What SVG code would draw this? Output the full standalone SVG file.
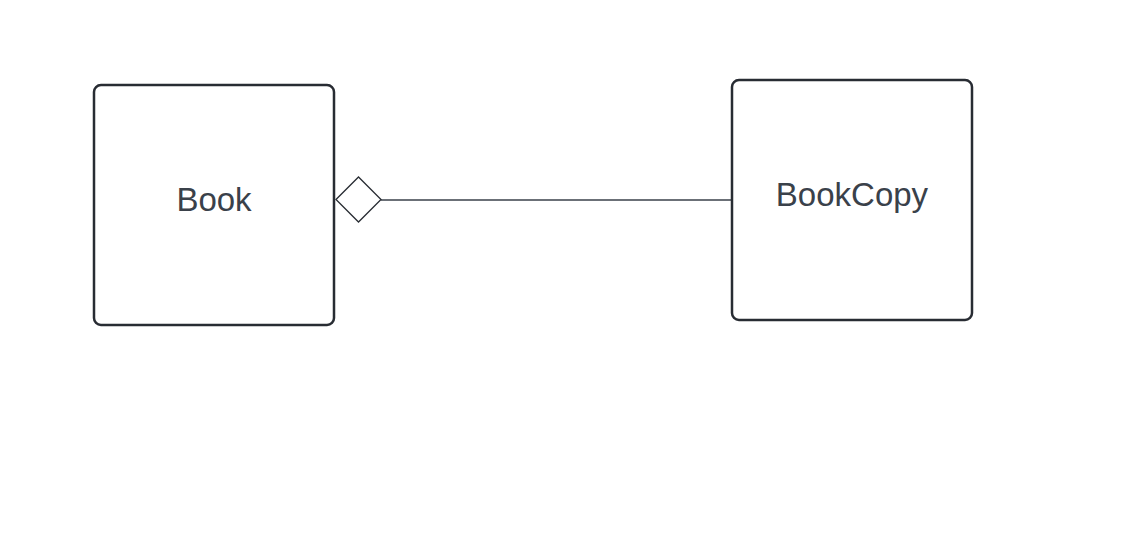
<svg xmlns="http://www.w3.org/2000/svg" width="1124" height="550" viewBox="0 0 1124 550">
<style>
.box{fill:#ffffff;stroke:#282c33;stroke-width:2.5}
.lbl{font-family:"Liberation Sans",Arial,sans-serif;font-size:33px;fill:#3a414a;text-anchor:middle}
.conn{stroke:#3a414a;stroke-width:1.3;fill:none}
</style>
<rect width="1124" height="550" fill="#ffffff"/>
<g id="connectors">
<line class="conn" x1="381" y1="200" x2="731" y2="200"/>
<polygon points="336,199.5 358.5,177 381,199.5 358.5,222" fill="#ffffff" stroke="#282c33" stroke-width="1.3"/>
</g>
<g id="book">
<rect class="box" x="94" y="85" width="240" height="240" rx="7"/>
<text class="lbl" x="214" y="211">Book</text>
</g>
<g id="bookcopy">
<rect class="box" x="732" y="80" width="240" height="240" rx="7"/>
<text class="lbl" x="852" y="206">BookCopy</text>
</g>
</svg>
